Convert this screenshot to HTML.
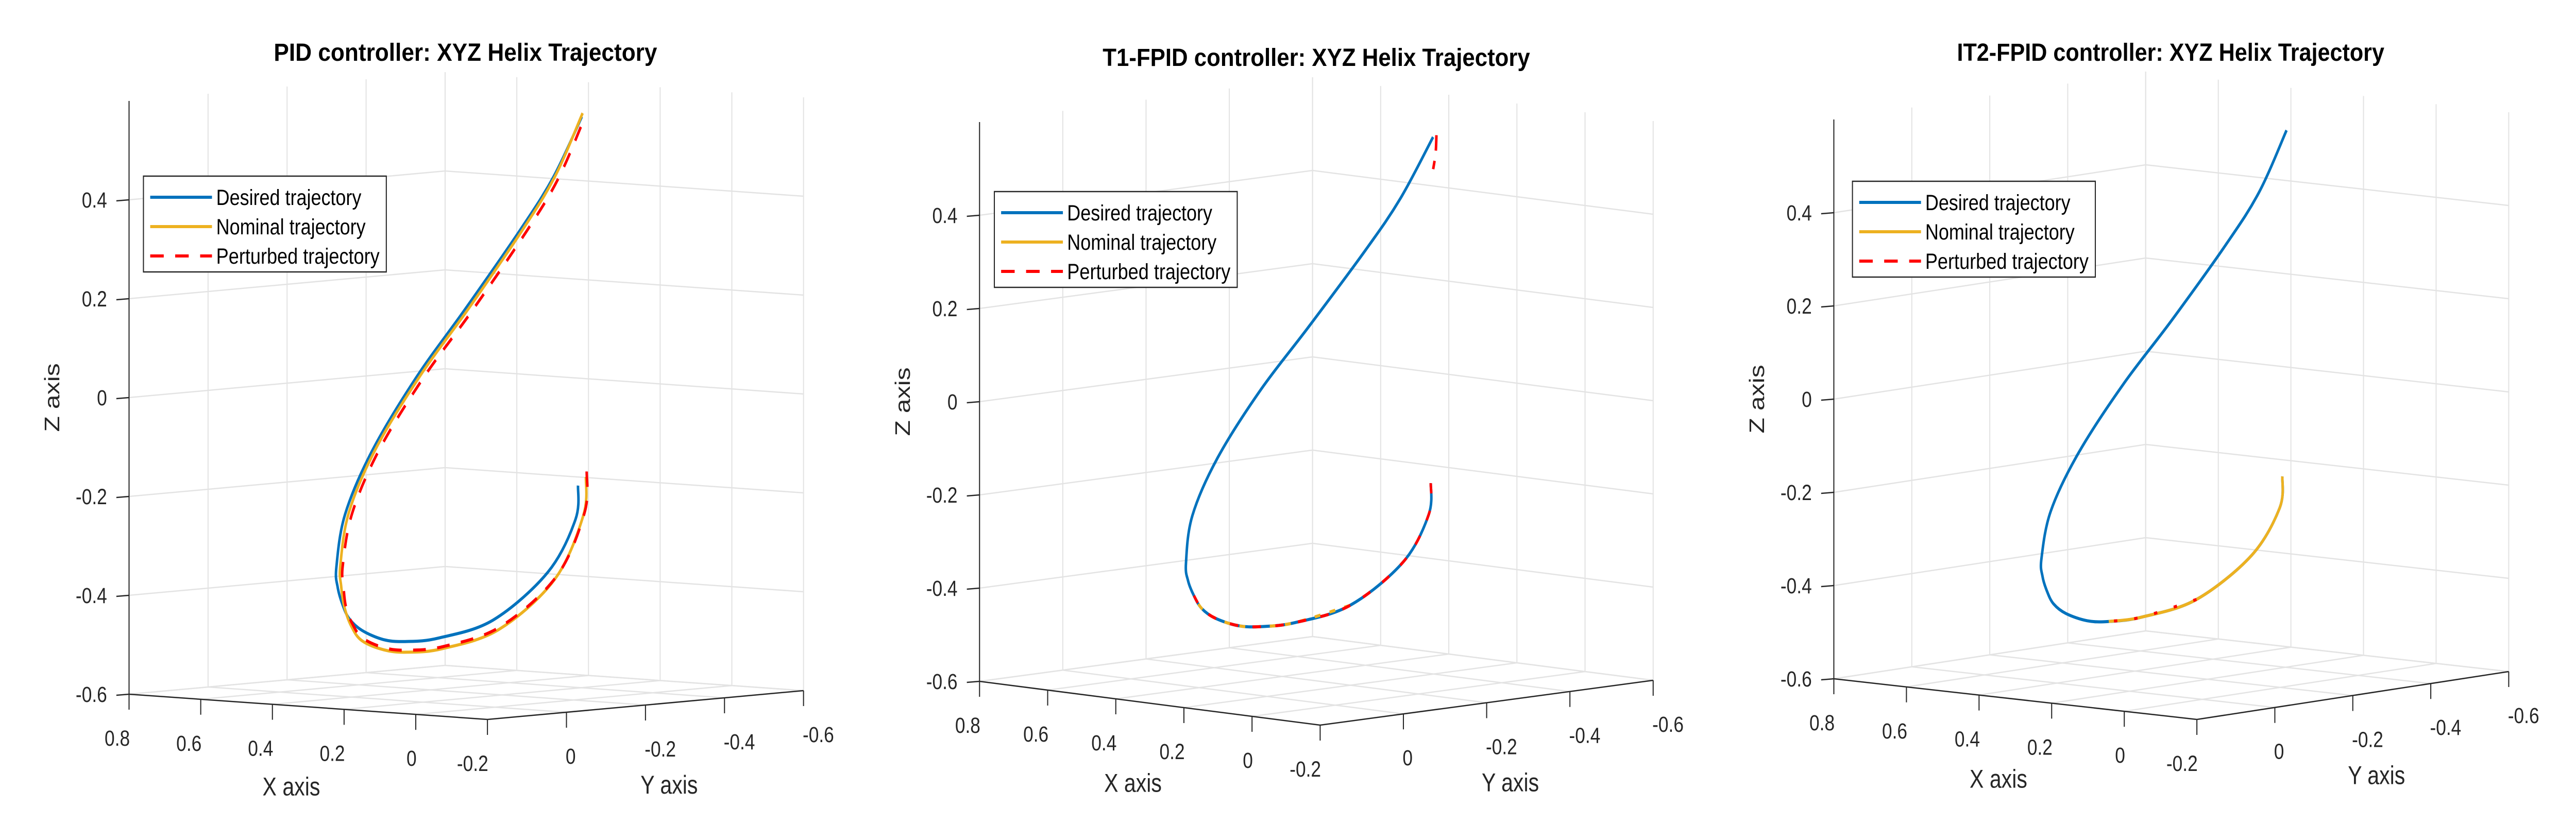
<!DOCTYPE html>
<html><head><meta charset="utf-8"><style>
html,body{margin:0;padding:0;background:#fff;width:100%;height:100%;overflow:hidden;}
svg{display:block;position:absolute;left:0;top:0;width:100vw;height:100vh;font-family:"Liberation Sans",Arial,sans-serif;}
</style></head>
<body>
<svg id="fig" xmlns="http://www.w3.org/2000/svg" viewBox="0 0 6088 1600" preserveAspectRatio="none">
<rect x="0" y="0" width="6088" height="1600" fill="#fff"/>
</svg>
<script>
// ---- data ----
const xTicks = [0.8, 0.6, 0.4, 0.2, 0, -0.2];
const xTickLabels = ["0.8", "0.6", "0.4", "0.2", "0", "-0.2"];
const yTicks = [0, -0.2, -0.4, -0.6];
const yTickLabels = ["0", "-0.2", "-0.4", "-0.6"];
const zTicks = [-0.6, -0.4, -0.2, 0, 0.2, 0.4];
const zTickLabels = ["-0.6", "-0.4", "-0.2", "0", "0.2", "0.4"];
const titles = ["PID controller: XYZ Helix Trajectory", "T1-FPID controller: XYZ Helix Trajectory", "IT2-FPID controller: XYZ Helix Trajectory"];
const legendLabels = ["Desired trajectory", "Nominal trajectory", "Perturbed trajectory"];

const desiredX = [0.212,0.228,0.326,0.441,0.514,0.541,0.549,0.546,0.535,0.519,0.497,0.475,0.400,0.309,0.214,0.142,0.095,0.092,0.165];
const desiredY = [-0.403,-0.411,-0.430,-0.396,-0.324,-0.264,-0.216,-0.159,-0.117,-0.085,-0.053,-0.030,0.016,0.030,0.004,-0.055,-0.151,-0.232,-0.370];
const desiredZ = [-0.192,-0.262,-0.375,-0.475,-0.510,-0.514,-0.507,-0.484,-0.457,-0.424,-0.386,-0.343,-0.229,-0.095,0.057,0.195,0.350,0.451,0.559];

const pidNomX = [0.212,0.228,0.326,0.441,0.514,0.541,0.549,0.546,0.535,0.519,0.497,0.475,0.400,0.309,0.214,0.142,0.095,0.092,0.165];
const pidNomY = [-0.423,-0.431,-0.448,-0.411,-0.334,-0.269,-0.218,-0.159,-0.122,-0.090,-0.062,-0.040,0.006,0.020,-0.006,-0.063,-0.157,-0.236,-0.372];
const pidNomZ = [-0.176,-0.255,-0.390,-0.495,-0.532,-0.536,-0.528,-0.505,-0.472,-0.430,-0.385,-0.340,-0.225,-0.090,0.060,0.195,0.350,0.452,0.566];

const pidPertX = [0.212,0.228,0.326,0.441,0.514,0.541,0.549,0.546,0.535,0.519,0.497,0.475,0.400,0.309,0.214,0.142,0.095,0.092,0.165];
const pidPertY = [-0.425,-0.434,-0.452,-0.414,-0.336,-0.270,-0.219,-0.161,-0.125,-0.094,-0.068,-0.046,-0.002,0.012,-0.014,-0.072,-0.166,-0.245,-0.380];
const pidPertZ = [-0.165,-0.250,-0.385,-0.490,-0.528,-0.532,-0.524,-0.500,-0.468,-0.430,-0.386,-0.342,-0.228,-0.094,0.055,0.190,0.345,0.448,0.562];

const t1NomX = [0.441,0.514,0.541,0.549,0.546,0.535,0.519];
const t1NomY = [-0.396,-0.324,-0.264,-0.216,-0.159,-0.117,-0.085];
const t1NomZ = [-0.475,-0.510,-0.514,-0.507,-0.484,-0.457,-0.424];
const t1PertX = [0.212,0.228,0.326,0.441,0.514,0.541,0.549,0.546,0.535,0.519];
const t1PertY = [-0.403,-0.411,-0.430,-0.396,-0.324,-0.264,-0.216,-0.159,-0.117,-0.085];
const t1PertZ = [-0.192,-0.262,-0.375,-0.475,-0.510,-0.514,-0.507,-0.484,-0.457,-0.424];
const t1PertTopX = [0.165,0.160,0.155];
const t1PertTopY = [-0.378,-0.372,-0.362];
const t1PertTopZ = [0.562,0.525,0.492];

const it2NomX = [0.212,0.228,0.326,0.441,0.514,0.541];
const it2NomY = [-0.403,-0.411,-0.430,-0.396,-0.324,-0.264];
const it2NomZ = [-0.192,-0.262,-0.375,-0.475,-0.510,-0.514];
const it2PertX = [0.441,0.514,0.541];
const it2PertY = [-0.396,-0.324,-0.264];
const it2PertZ = [-0.475,-0.510,-0.514];

// ---- layout (pixel geometry, not data) ----
const panels = [
  {L:[305,1348], F:[1152,1397], R:[1899,1341], zs:960, titleX:1100, titleY:118, titleW:906, leg:[339,342]},
  {L:[2315,1323], F:[3120,1408], R:[3907,1321], zs:905, titleX:3111, titleY:128, titleW:1010, leg:[2350,372]},
  {L:[4334,1318], F:[5192,1397], R:[5929,1304], zs:905, titleX:5130, titleY:118, titleW:1010, leg:[4378,352]}
];
const COLORS = {blue:"#0072BD", orange:"#EDB120", red:"#FF0000"};
const svg = document.getElementById('fig');
const NS = "http://www.w3.org/2000/svg";

function mk(tag, attrs, parent){
  const e = document.createElementNS(NS, tag);
  for (const k in attrs) e.setAttribute(k, attrs[k]);
  (parent||svg).appendChild(e);
  return e;
}
function proj(p, x, y, z){
  const a = (x + 0.2) / 1.0;
  const b = (0.2 - y) / 0.8;
  const sx = p.F[0] + a*(p.L[0]-p.F[0]) + b*(p.R[0]-p.F[0]);
  const sy = p.F[1] + a*(p.L[1]-p.F[1]) + b*(p.R[1]-p.F[1]) - (z + 0.6)*p.zs;
  return [sx, sy];
}
function smoothPath(pts){
  let d = "M" + pts[0][0].toFixed(1) + "," + pts[0][1].toFixed(1);
  for (let i=0;i<pts.length-1;i++){
    const p0 = pts[i-1]||pts[i], p1=pts[i], p2=pts[i+1], p3=pts[i+2]||pts[i+1];
    const c1 = [p1[0]+(p2[0]-p0[0])/6, p1[1]+(p2[1]-p0[1])/6];
    const c2 = [p2[0]-(p3[0]-p1[0])/6, p2[1]-(p3[1]-p1[1])/6];
    d += " C"+c1[0].toFixed(1)+","+c1[1].toFixed(1)+" "+c2[0].toFixed(1)+","+c2[1].toFixed(1)+" "+p2[0].toFixed(1)+","+p2[1].toFixed(1);
  }
  return d;
}
function drawSeries(p, g, xs, ys, zs, color, dash, name){
  const pts = xs.map((x,i)=>proj(p, x, ys[i], zs[i]));
  const path = mk('path', {d:smoothPath(pts), fill:'none', stroke:color, 'stroke-width':6, 'stroke-linecap':'butt', 'stroke-linejoin':'round'}, g);
  if (dash) path.setAttribute('stroke-dasharray', dash);
  
  
}

panels.forEach((p, pi) => {
  const g = mk('g', {});
  
  
  const grid = {stroke:'#e3e3e3', 'stroke-width':2.5, fill:'none'};
  yTicks.forEach(v => {
    const a = proj(p, 0.8, v, -0.6), b = proj(p, 0.8, v, 0.6);
    const l = mk('line', Object.assign({x1:a[0],y1:a[1],x2:b[0],y2:b[1]}, grid), g);
    
    
  });
  xTicks.forEach(v => {
    const a = proj(p, v, -0.6, -0.6), b = proj(p, v, -0.6, 0.6);
    const l = mk('line', Object.assign({x1:a[0],y1:a[1],x2:b[0],y2:b[1]}, grid), g);
    
    
  });
  zTicks.forEach(v => {
    const a = proj(p, 0.8, 0.2, v), b = proj(p, 0.8, -0.6, v), c = proj(p, -0.2, -0.6, v);
    const l = mk('polyline', Object.assign({points:a.join(',')+' '+b.join(',')+' '+c.join(',')}, grid), g);
    
    
  });
  xTicks.forEach(v => {
    const a = proj(p, v, 0.2, -0.6), b = proj(p, v, -0.6, -0.6);
    const l = mk('line', Object.assign({x1:a[0],y1:a[1],x2:b[0],y2:b[1]}, grid), g);
    
    
  });
  yTicks.concat([0.2]).forEach(v => {
    const a = proj(p, 0.8, v, -0.6), b = proj(p, -0.2, v, -0.6);
    const l = mk('line', Object.assign({x1:a[0],y1:a[1],x2:b[0],y2:b[1]}, grid), g);
    
    
  });
  const ax = {stroke:'#262626', 'stroke-width':2.5, fill:'none'};
  const L = proj(p,0.8,0.2,-0.6), F = proj(p,-0.2,0.2,-0.6), R = proj(p,-0.2,-0.6,-0.6), T = proj(p,0.8,0.2,0.6);
  let e = mk('line', Object.assign({x1:L[0],y1:L[1],x2:F[0],y2:F[1]}, ax), g);
   
  e = mk('line', Object.assign({x1:F[0],y1:F[1],x2:R[0],y2:R[1]}, ax), g);
   
  e = mk('line', Object.assign({x1:L[0],y1:L[1],x2:T[0],y2:T[1]}, ax), g);
   

  const tf = {'font-size':43, fill:'#262626'};
  xTicks.forEach((v,i) => {
    const a = proj(p, v, 0.2, -0.6);
    const t = mk('line', Object.assign({x1:a[0],y1:a[1],x2:a[0],y2:a[1]+30}, ax), g);
     
    const tx = mk('text', Object.assign({x:a[0]+2, y:a[1]+100, 'text-anchor':'end'}, tf), g);
    tx.textContent = xTickLabels[i];
     
  });
  yTicks.forEach((v,i) => {
    const a = proj(p, -0.2, v, -0.6);
    const t = mk('line', Object.assign({x1:a[0],y1:a[1],x2:a[0],y2:a[1]+30}, ax), g);
     
    const tx = mk('text', Object.assign({x:a[0]-2, y:a[1]+100, 'text-anchor':'start'}, tf), g);
    tx.textContent = yTickLabels[i];
     
  });
  zTicks.forEach((v,i) => {
    const a = proj(p, 0.8, 0.2, v);
    const t = mk('line', Object.assign({x1:a[0],y1:a[1],x2:a[0]-30,y2:a[1]+2}, ax), g);
     
    const tx = mk('text', Object.assign({x:a[0]-52, y:a[1]+15, 'text-anchor':'end'}, tf), g);
    tx.textContent = zTickLabels[i];
     
  });
  const lf = {'font-size':50, fill:'#262626', 'text-anchor':'middle'};
  let t = mk('text', Object.assign({x:(L[0]+F[0])/2-40, y:(L[1]+F[1])/2+172}, lf), g);
  t.textContent = 'X axis';  
  t = mk('text', Object.assign({x:(F[0]+R[0])/2+56, y:(F[1]+R[1])/2+172}, lf), g);
  t.textContent = 'Y axis';  
  const z0 = proj(p, 0.8, 0.2, 0);
  t = mk('text', Object.assign({x:0, y:0, transform:'translate('+(z0[0]-165)+','+z0[1]+') rotate(-90)'}, lf), g);
  t.textContent = 'Z axis';  
  t = mk('text', {x:p.titleX, y:p.titleY, 'font-size':48, 'font-weight':'bold', 'text-anchor':'middle', fill:'#000', textLength:p.titleW, lengthAdjust:'spacingAndGlyphs'}, g);
  t.textContent = titles[pi];  

  drawSeries(p, g, desiredX, desiredY, desiredZ, COLORS.blue, null, 'desired-trajectory-line');
  if (pi === 0) {
    drawSeries(p, g, pidNomX, pidNomY, pidNomZ, COLORS.orange, null, 'nominal-trajectory-line');
    drawSeries(p, g, pidPertX, pidPertY, pidPertZ, COLORS.red, '30 27', 'perturbed-trajectory-line');
  } else if (pi === 1) {
    drawSeries(p, g, t1NomX, t1NomY, t1NomZ, COLORS.orange, '14 22', 'nominal-trajectory-line');
    drawSeries(p, g, t1PertX, t1PertY, t1PertZ, COLORS.red, '20 34', 'perturbed-trajectory-line');
    drawSeries(p, g, t1PertTopX, t1PertTopY, t1PertTopZ, COLORS.red, '30 20', 'perturbed-trajectory-top');
  } else {
    drawSeries(p, g, it2NomX, it2NomY, it2NomZ, COLORS.orange, null, 'nominal-trajectory-line');
    drawSeries(p, g, it2PertX, it2PertY, it2PertZ, COLORS.red, '8 40', 'perturbed-trajectory-line');
  }

  const lg = mk('g', {}, g);
   
  const lx = p.leg[0], ly = p.leg[1];
  const box = mk('rect', {x:lx, y:ly, width:574, height:186, fill:'#fff', stroke:'#262626', 'stroke-width':2.5}, lg);
   
  const cols = [COLORS.blue, COLORS.orange, COLORS.red];
  const widths = [343, 353, 386];
  legendLabels.forEach((lab, i) => {
    const yy = ly + 41 + i*57;
    const ln = mk('line', {x1:lx+16, y1:yy, x2:lx+162, y2:yy, stroke:cols[i], 'stroke-width':6}, lg);
    if (i === 2) ln.setAttribute('stroke-dasharray','32 27');
     
    const tx = mk('text', {x:lx+172, y:yy+15, 'font-size':43, fill:'#000', textLength:widths[i], lengthAdjust:'spacingAndGlyphs'}, lg);
    tx.textContent = lab;
     
  });
});
</script>
</body></html>
